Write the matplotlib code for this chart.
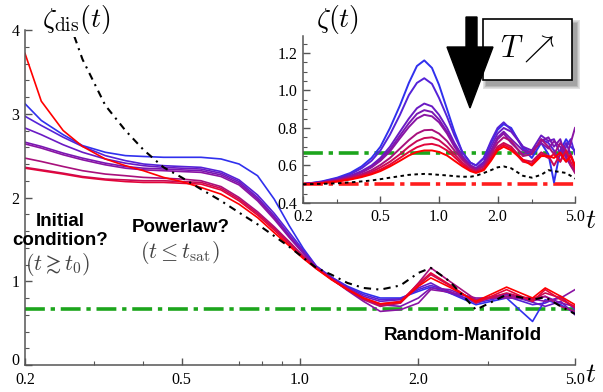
import matplotlib
matplotlib.use('Agg')
import matplotlib.pyplot as plt
from matplotlib.patches import Rectangle, Polygon
from matplotlib.ticker import FixedLocator, FixedFormatter, NullFormatter

# ---------------- data ----------------
t_main = [0.2, 0.22, 0.25, 0.28, 0.32, 0.36, 0.4, 0.45, 0.5, 0.56, 0.63, 0.7, 0.78, 0.86, 0.94,
          1.02, 1.1, 1.2, 1.32, 1.45, 1.6, 1.8, 2.0, 2.15, 2.4, 2.8, 3.35, 3.9, 4.2, 4.6, 5.0]

zdis_0 = [3.12, 2.92, 2.75, 2.62, 2.54, 2.50, 2.49, 2.48, 2.48, 2.48, 2.46, 2.40, 2.26, 1.98, 1.66, 1.39, 1.18,
          1.05, 0.94, 0.86, 0.80, 0.80, 0.88, 0.93, 0.86, 0.72, 0.80, 0.52, 0.78, 0.72, 0.62]
zdis_1 = [2.97, 2.86, 2.72, 2.61, 2.50, 2.44, 2.40, 2.38, 2.37, 2.36, 2.31, 2.21, 2.03, 1.81, 1.58, 1.37, 1.18,
          1.05, 0.93, 0.84, 0.78, 0.79, 0.90, 0.95, 0.88, 0.74, 0.82, 0.72, 0.74, 0.82, 0.66]
zdis_2 = [2.83, 2.75, 2.63, 2.54, 2.46, 2.41, 2.38, 2.36, 2.35, 2.34, 2.29, 2.19, 2.00, 1.78, 1.55, 1.35, 1.17,
          1.04, 0.92, 0.82, 0.76, 0.78, 0.92, 0.98, 0.86, 0.76, 0.84, 0.75, 0.70, 0.76, 0.60]
zdis_3 = [2.66, 2.61, 2.53, 2.47, 2.41, 2.37, 2.35, 2.34, 2.33, 2.32, 2.27, 2.17, 1.98, 1.76, 1.53, 1.34, 1.17,
          1.03, 0.90, 0.79, 0.72, 0.70, 0.80, 0.92, 0.90, 0.78, 0.85, 0.76, 0.82, 0.74, 0.70]
zdis_4 = [2.64, 2.59, 2.51, 2.45, 2.39, 2.35, 2.33, 2.32, 2.31, 2.30, 2.25, 2.15, 1.96, 1.74, 1.52, 1.33, 1.16,
          1.03, 0.89, 0.76, 0.64, 0.66, 0.74, 0.90, 0.87, 0.80, 0.80, 0.79, 0.76, 0.80, 0.90]
zdis_5 = [2.47, 2.43, 2.37, 2.32, 2.28, 2.26, 2.24, 2.23, 2.22, 2.20, 2.13, 2.00, 1.83, 1.65, 1.47, 1.30, 1.16,
          1.03, 0.90, 0.78, 0.70, 0.74, 0.98, 1.16, 1.00, 0.78, 0.82, 0.80, 0.82, 0.70, 0.64]
zdis_6 = [2.36, 2.33, 2.29, 2.25, 2.22, 2.21, 2.20, 2.20, 2.19, 2.18, 2.11, 1.98, 1.81, 1.63, 1.46, 1.29, 1.16,
          1.03, 0.90, 0.79, 0.71, 0.74, 0.95, 1.08, 0.95, 0.75, 0.86, 0.78, 0.86, 0.80, 0.68]
zdis_7 = [2.35, 2.32, 2.28, 2.24, 2.21, 2.19, 2.18, 2.18, 2.17, 2.16, 2.09, 1.96, 1.79, 1.61, 1.44, 1.28, 1.15,
          1.03, 0.91, 0.80, 0.73, 0.76, 0.97, 1.10, 0.96, 0.74, 0.90, 0.76, 0.90, 0.78, 0.70]
zdis_8 = [3.72, 3.15, 2.80, 2.61, 2.46, 2.38, 2.32, 2.24, 2.19, 2.12, 2.04, 1.92, 1.76, 1.58, 1.42, 1.27, 1.15,
          1.02, 0.90, 0.80, 0.73, 0.75, 0.94, 1.04, 0.93, 0.76, 0.93, 0.80, 0.92, 0.82, 0.72]
zdis_black = [6.0, 5.2, 4.3, 3.65, 3.10, 2.80, 2.57, 2.36, 2.24, 2.10, 1.96, 1.82, 1.68, 1.54, 1.41, 1.28, 1.16,
              1.08, 0.98, 0.92, 0.90, 0.95, 1.10, 1.16, 1.00, 0.66, 0.84, 0.78, 0.81, 0.70, 0.61]

t_inset = [0.2, 0.25, 0.3, 0.35, 0.4, 0.45, 0.5, 0.56, 0.63, 0.7, 0.77, 0.84, 0.92, 1.0, 1.1, 1.2, 1.32,
           1.45, 1.55, 1.7, 1.85, 2.0, 2.15, 2.35, 2.7, 3.0, 3.35, 3.65, 3.9, 4.2, 4.5, 4.75, 5.0]

zeta_0 = [0.50, 0.515, 0.535, 0.56, 0.595, 0.64, 0.70, 0.80, 0.92, 1.04, 1.13, 1.16, 1.12, 1.03, 0.90, 0.78, 0.67,
          0.615, 0.60, 0.64, 0.72, 0.79, 0.82, 0.80, 0.69, 0.64, 0.72, 0.66, 0.51, 0.68, 0.74, 0.70, 0.68]
zeta_1 = [0.50, 0.513, 0.531, 0.553, 0.585, 0.625, 0.68, 0.765, 0.87, 0.975, 1.04, 1.065, 1.035, 0.96, 0.86, 0.76, 0.67,
          0.615, 0.60, 0.64, 0.73, 0.80, 0.83, 0.79, 0.70, 0.66, 0.74, 0.72, 0.68, 0.62, 0.70, 0.74, 0.66]
zeta_2 = [0.50, 0.511, 0.526, 0.545, 0.57, 0.60, 0.64, 0.70, 0.78, 0.85, 0.905, 0.93, 0.915, 0.87, 0.80, 0.72, 0.65,
          0.60, 0.585, 0.62, 0.70, 0.77, 0.80, 0.78, 0.70, 0.68, 0.76, 0.73, 0.74, 0.66, 0.72, 0.66, 0.58]
zeta_3 = [0.50, 0.51, 0.524, 0.542, 0.565, 0.593, 0.63, 0.685, 0.76, 0.825, 0.875, 0.895, 0.885, 0.845, 0.78, 0.71, 0.645,
          0.60, 0.585, 0.61, 0.68, 0.75, 0.78, 0.74, 0.68, 0.67, 0.73, 0.75, 0.70, 0.74, 0.64, 0.60, 0.57]
zeta_4 = [0.50, 0.51, 0.523, 0.54, 0.562, 0.59, 0.625, 0.675, 0.745, 0.805, 0.85, 0.87, 0.862, 0.83, 0.77, 0.70, 0.64,
          0.595, 0.58, 0.60, 0.67, 0.74, 0.77, 0.72, 0.66, 0.68, 0.72, 0.69, 0.73, 0.70, 0.64, 0.72, 0.80]
zeta_5 = [0.50, 0.508, 0.52, 0.535, 0.553, 0.575, 0.603, 0.64, 0.69, 0.735, 0.77, 0.788, 0.79, 0.77, 0.73, 0.68, 0.63,
          0.59, 0.575, 0.595, 0.66, 0.72, 0.75, 0.73, 0.65, 0.66, 0.74, 0.70, 0.66, 0.72, 0.68, 0.60, 0.56]
zeta_6 = [0.50, 0.507, 0.518, 0.531, 0.547, 0.566, 0.59, 0.62, 0.66, 0.70, 0.73, 0.746, 0.75, 0.735, 0.70, 0.66, 0.615,
          0.58, 0.568, 0.585, 0.645, 0.70, 0.72, 0.70, 0.63, 0.62, 0.67, 0.65, 0.60, 0.66, 0.62, 0.66, 0.60]
zeta_7 = [0.50, 0.506, 0.516, 0.528, 0.542, 0.558, 0.578, 0.605, 0.64, 0.672, 0.697, 0.711, 0.715, 0.705, 0.68, 0.645, 0.605,
          0.575, 0.565, 0.58, 0.635, 0.69, 0.71, 0.69, 0.62, 0.61, 0.66, 0.64, 0.66, 0.62, 0.68, 0.62, 0.58]
zeta_8 = [0.50, 0.505, 0.514, 0.525, 0.538, 0.553, 0.57, 0.595, 0.625, 0.653, 0.672, 0.68, 0.68, 0.672, 0.653, 0.625, 0.595,
          0.57, 0.56, 0.575, 0.625, 0.68, 0.70, 0.68, 0.63, 0.60, 0.65, 0.65, 0.64, 0.67, 0.62, 0.65, 0.60]
zeta_black = [0.50, 0.502, 0.505, 0.51, 0.515, 0.52, 0.527, 0.535, 0.543, 0.55, 0.553, 0.555, 0.553, 0.55, 0.547, 0.543, 0.54,
              0.54, 0.545, 0.56, 0.575, 0.59, 0.595, 0.585, 0.545, 0.535, 0.55, 0.575, 0.57, 0.565, 0.56, 0.545, 0.53]

zeta_rm = 2.0 / 3.0      # random-manifold exponent (green)
zeta_th = 0.5            # thermal exponent (red)

main_xticks = [0.2, 0.5, 1.0, 2.0, 5.0]
main_xticklabels = ['0.2', '0.5', '1.0', '2.0', '5.0']
main_yticks = [0, 1, 2, 3, 4]
main_yticklabels = ['0', '1', '2', '3', '4']
inset_yticks = [0.4, 0.6, 0.8, 1.0, 1.2]
inset_yticklabels = ['0.4', '0.6', '0.8', '1.0', '1.2']

# ---------------- styling ----------------
colors = ['#3030ee', '#5522d8', '#6a1ac4', '#7a16b2', '#8a14a4', '#a8107c', '#c80a56', '#e2063a', '#ff0000']
green = '#1ca51c'
red = '#ff1e1e'
spine_c = '#555555'
serif = 'Liberation Serif'

plt.rcParams['font.family'] = [serif, 'DejaVu Serif']
plt.rcParams['mathtext.fontset'] = 'cm'

W, H = 603, 392
def fx(px):
    return px / W
def fy(py):
    return 1 - py / H

fig = plt.figure(figsize=(6.03, 3.92), dpi=100)

def style_axes(a, minor_x):
    a.set_xscale('log')
    for s in ['top', 'right']:
        a.spines[s].set_visible(False)
    for s in ['left', 'bottom']:
        a.spines[s].set_color(spine_c)
        a.spines[s].set_linewidth(1.1)
    a.xaxis.set_major_locator(FixedLocator(main_xticks))
    a.xaxis.set_major_formatter(FixedFormatter(main_xticklabels))
    a.xaxis.set_minor_locator(FixedLocator(minor_x))
    a.xaxis.set_minor_formatter(NullFormatter())
    a.tick_params(which='major', direction='in', length=5, width=1, color=spine_c,
                  labelsize=11.5, pad=4, labelfontfamily=serif)
    a.tick_params(which='minor', direction='in', length=3, width=0.8, color=spine_c)

# main axes
ax = fig.add_axes([fx(25), fy(365), 550 / W, 335 / H])
style_axes(ax, [0.3, 0.4, 0.7, 0.8, 0.9, 3.0])
ax.set_xlim(0.2, 5.0)
ax.set_ylim(0, 4)
ax.set_yticks(main_yticks)
ax.set_yticklabels(main_yticklabels)
ax.set_yticks([v / 5 for v in range(0, 21) if v % 5], minor=True)
ax.tick_params(axis='y', which='major', pad=4)
ax.tick_params(axis='x', which='major', pad=5)
ax.yaxis.get_major_ticks()[0].label1.set_verticalalignment('baseline')

dashdot = (0, (5.5, 1.6, 1.2, 1.6))
ax.axhline(zeta_rm, color=green, lw=2.6, ls=dashdot, zorder=1.5)
for z, c in zip([zdis_0, zdis_1, zdis_2, zdis_3, zdis_4, zdis_5, zdis_6, zdis_7, zdis_8], colors):
    ax.plot(t_main, z, color=c, lw=1.2, zorder=2)
ax.plot(t_main, zdis_black, color='black', lw=1.5, ls=(0, (3.5, 2.5, 1.0, 2.5)), zorder=3)

# inset axes
axi = fig.add_axes([fx(303), fy(203), 272 / W, 167 / H])
axi.patch.set_alpha(0)
style_axes(axi, [0.3, 3.0])
axi.set_xlim(0.2, 5.0)
axi.set_ylim(0.4, 1.29)
axi.set_yticks(inset_yticks)
axi.set_yticklabels(inset_yticklabels)
axi.set_yticks([0.45, 0.5, 0.55, 0.65, 0.7, 0.75, 0.85, 0.9, 0.95, 1.05, 1.1, 1.15, 1.25], minor=True)

axi.axhline(zeta_rm, color=green, lw=2.6, ls=dashdot, zorder=1.5)
axi.axhline(zeta_th, color=red, lw=2.6, ls=dashdot, zorder=1.5)
for z, c in zip([zeta_0, zeta_1, zeta_2, zeta_3, zeta_4, zeta_5, zeta_6, zeta_7, zeta_8], colors):
    axi.plot(t_inset, z, color=c, lw=1.4, zorder=2)
axi.plot(t_inset, zeta_black, color='black', lw=1.4, ls=(0, (1.8, 1.8)), zorder=3)

# ---------------- labels ----------------
fig.text(fx(76), fy(20), r'$\zeta_{\rm dis}(t)$', fontsize=20, ha='center', va='center',
         bbox=dict(facecolor='white', edgecolor='none', pad=0.5), zorder=5)
fig.text(fx(338), fy(20), r'$\zeta(t)$', fontsize=20, ha='center', va='center')
fig.text(fx(591), fy(376), r'$t$', fontsize=20, ha='center', va='center')
fig.text(fx(591), fy(221), r'$t$', fontsize=20, ha='center', va='center')

sans = ['Liberation Sans', 'DejaVu Sans']
fig.text(fx(60), fy(231), 'Initial\ncondition?', family=sans, weight='bold', fontsize=13.5,
         ha='center', va='center', linespacing=1.15)
fig.text(fx(58), fy(264), r'$(t\gtrsim t_0)$', fontsize=16, color='#444444', ha='center', va='center')
fig.text(fx(181), fy(228), 'Powerlaw?', family=sans, weight='bold', fontsize=13.5,
         ha='center', va='center')
fig.text(fx(180), fy(252), r'$(t\leq t_{\rm sat})$', fontsize=16, color='#444444', ha='center', va='center')
fig.text(fx(463), fy(335), 'Random-Manifold', family=sans, weight='bold', fontsize=13.5,
         ha='center', va='center')

# ---------------- box "T ↗" with soft shadow ----------------
bx0, by0, bx1, by1 = 483, 19, 572, 80
for i in range(7, 0, -1):
    fig.patches.append(Rectangle((fx(bx0 + 4 - i * 0.6), fy(by1 + 5 + i * 0.6)),
                                 (bx1 - bx0 + 2 * i * 0.6) / W, (by1 - by0 + 2 * i * 0.6) / H,
                                 transform=fig.transFigure, facecolor='black', edgecolor='none',
                                 alpha=0.06, zorder=6))
fig.patches.append(Rectangle((fx(bx0), fy(by1)), (bx1 - bx0) / W, (by1 - by0) / H,
                             transform=fig.transFigure, facecolor='white', edgecolor='black',
                             lw=1.2, zorder=7))
fig.text(fx(527), fy(49), r'$T\nearrow$', fontsize=22, ha='center', va='center', zorder=8)

# big black arrow
arrow_pts = [(466, 17), (477, 17), (477, 47), (493, 47), (470, 108), (447, 47), (466, 47)]
fig.patches.append(Polygon([(fx(x), fy(y)) for x, y in arrow_pts], closed=True,
                           transform=fig.transFigure, facecolor='black', edgecolor='black', zorder=9))

fig.savefig('out.png', dpi=100)
